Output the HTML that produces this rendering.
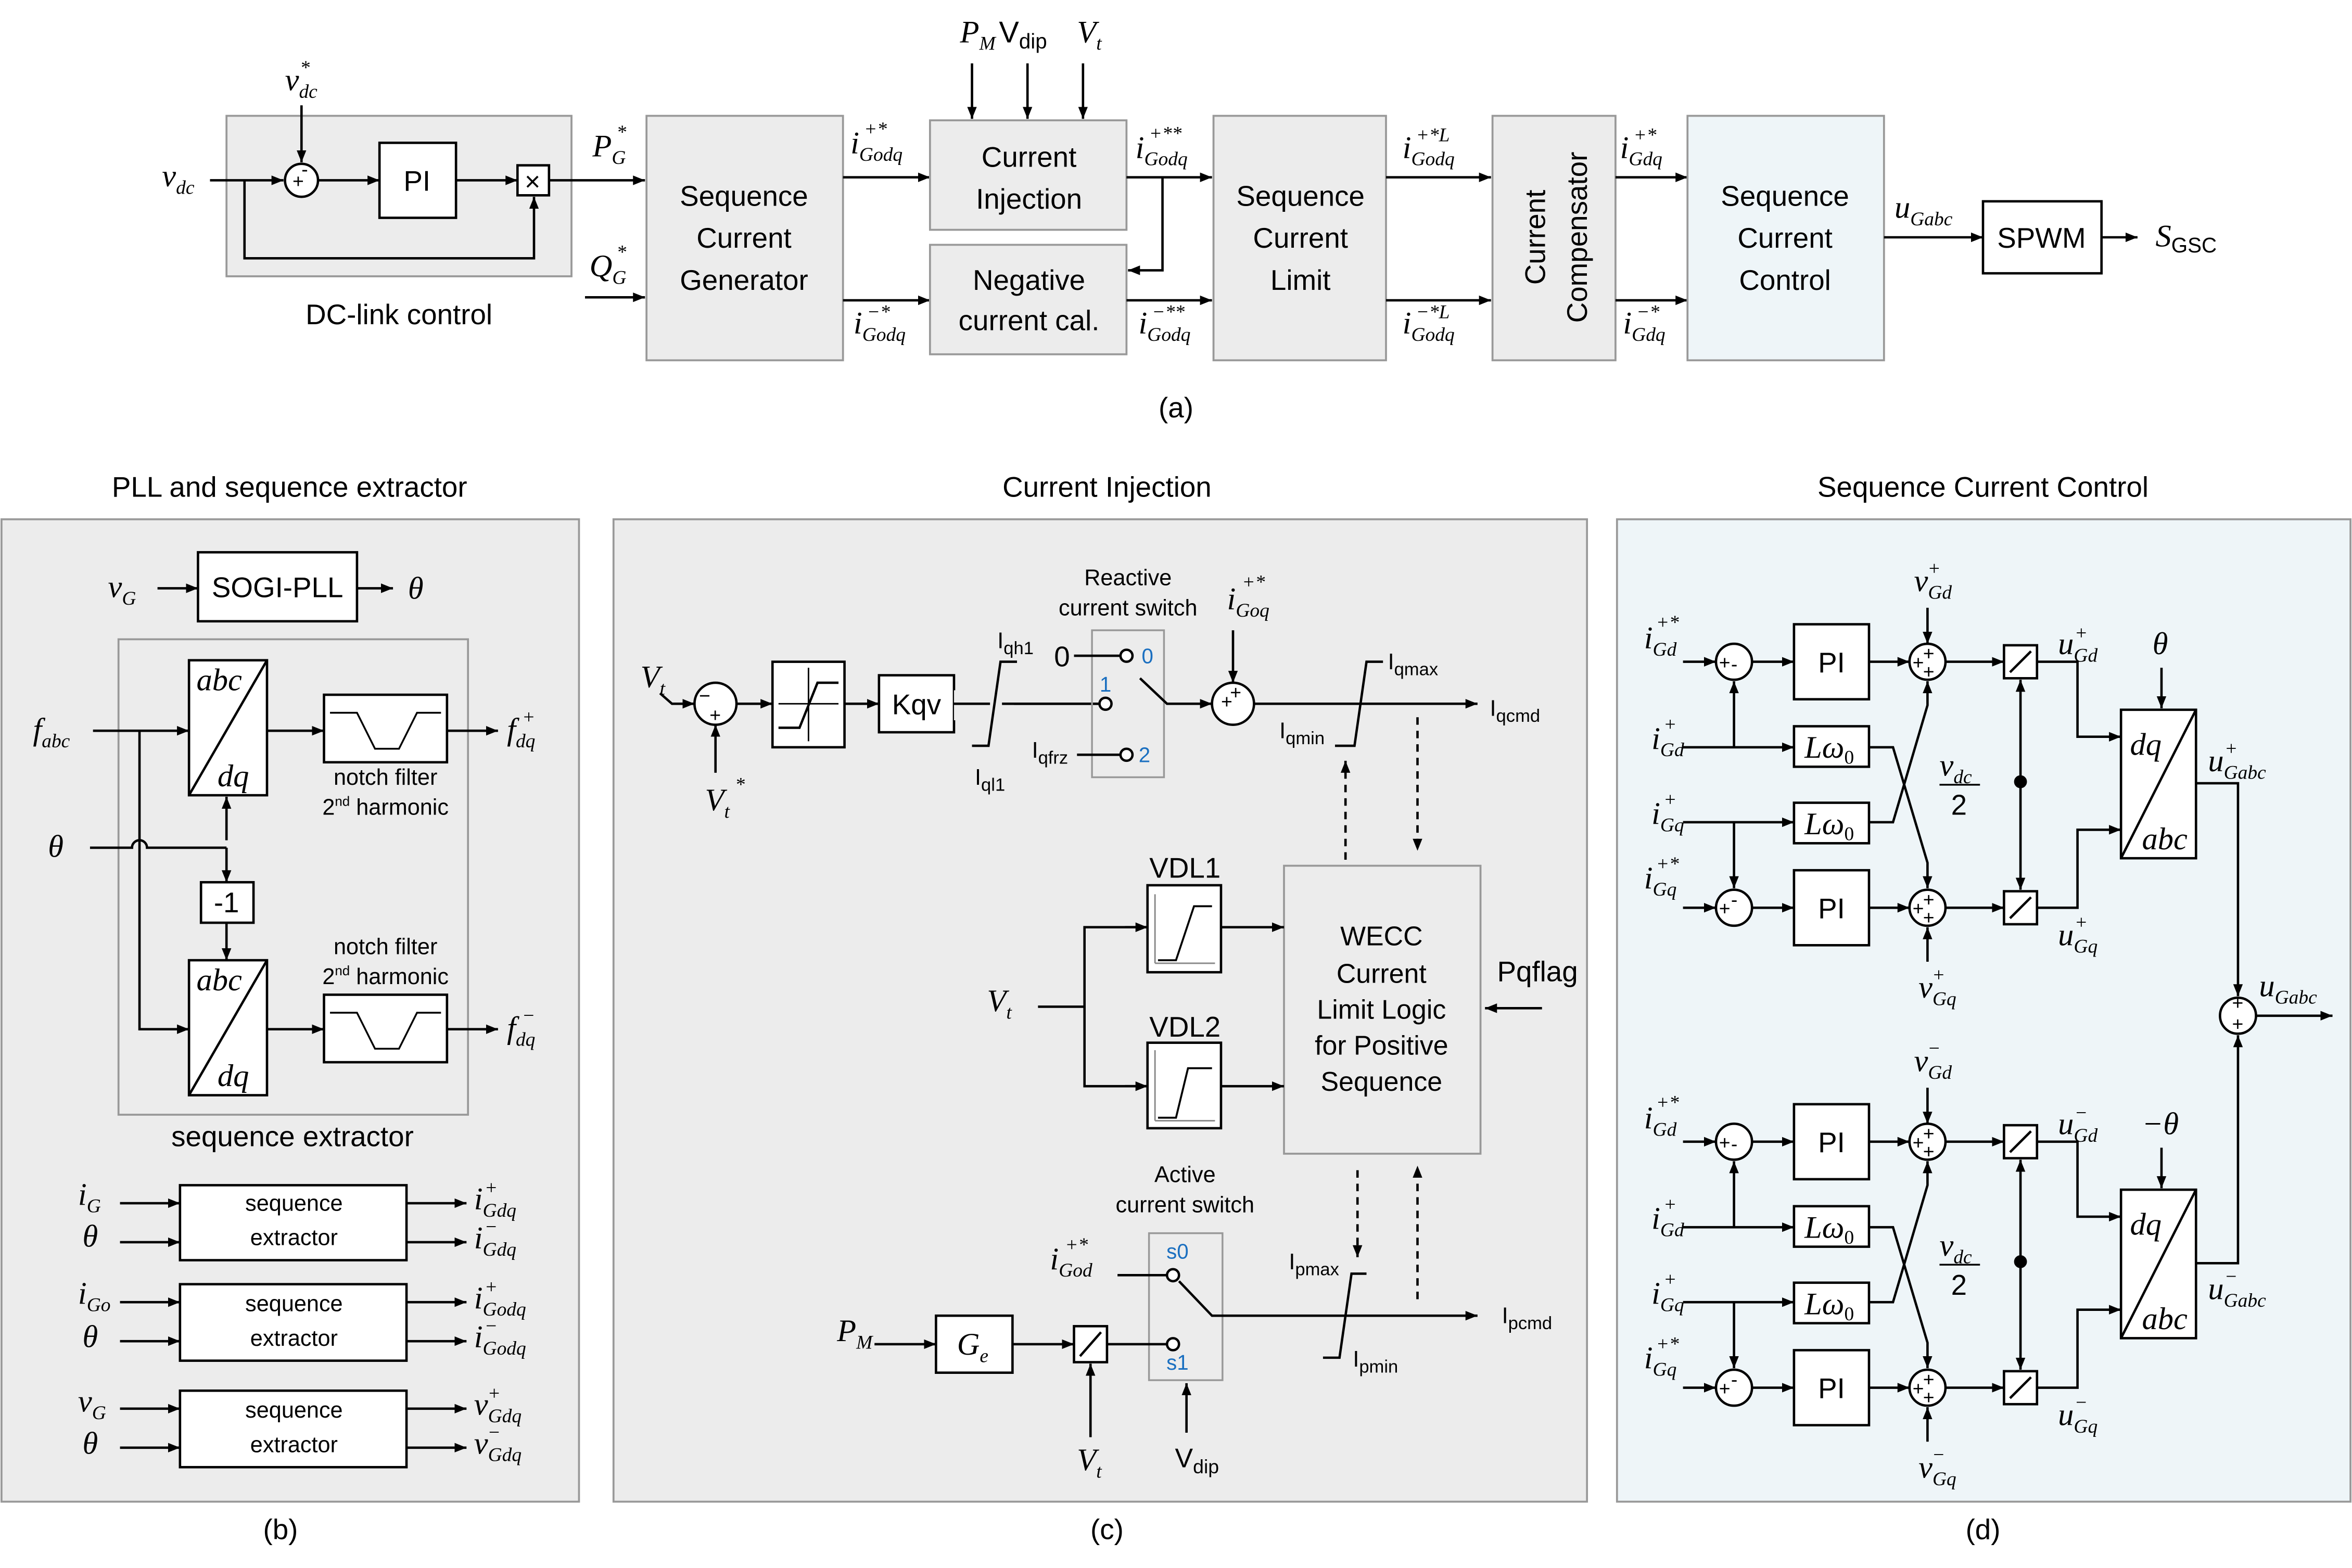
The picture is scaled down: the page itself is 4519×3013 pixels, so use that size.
<!DOCTYPE html>
<html><head><meta charset="utf-8"><style>
html,body{margin:0;padding:0;background:#fff}
svg{display:block}
.t{font-family:"Liberation Sans",sans-serif;font-size:19px;fill:#000;text-anchor:middle}
.s{font-family:"Liberation Sans",sans-serif;font-size:15px;fill:#000;text-anchor:middle}
.b{font-family:"Liberation Sans",sans-serif;font-size:14px;fill:#1a6fc0;text-anchor:middle}
.m{font-family:"Liberation Serif",serif;font-style:italic;font-size:21px;fill:#000}
.ms{font-family:"Liberation Serif",serif;font-style:italic;font-size:13px;fill:#000}
.n{font-family:"Liberation Sans",sans-serif;font-size:13px;fill:#000}
line,path,polyline{stroke:#000;stroke-width:1.6;fill:none}
.bx{fill:#fff;stroke:#000;stroke-width:1.6}
.gb{fill:#ececec;stroke:#999;stroke-width:1.3}
.lb{fill:#eef5f8;stroke:#999;stroke-width:1.3}
.d{stroke-dasharray:5,4}
circle{fill:#fff;stroke:#000;stroke-width:1.6}
</style></head><body>
<svg width="4519" height="3013" viewBox="0 0 1568 1045" xmlns="http://www.w3.org/2000/svg">
<defs><marker id="a" viewBox="0 0 10 10" refX="10" refY="5" markerWidth="8" markerHeight="8" markerUnits="userSpaceOnUse" orient="auto"><path d="M0,1 L10,5 L0,9 z" style="fill:#000;stroke:none"/></marker></defs>

<!-- (a) -->
<rect class="gb" x="151" y="77" width="230" height="107"/>
<text class="m" x="108" y="124">v<tspan class="ms" dy="5">dc</tspan></text>
<line x1="140" y1="120" x2="189" y2="120" marker-end="url(#a)"/>
<circle cx="201" cy="120" r="11"/><text class="n" x="195" y="125">+</text><text class="n" x="201" y="117">-</text>
<text class="m" x="190" y="60">v<tspan class="ms" dy="5">dc</tspan></text><text class="ms" x="200" y="49">*</text>
<line x1="201" y1="70" x2="201" y2="108" marker-end="url(#a)"/>
<line x1="212" y1="120" x2="253" y2="120" marker-end="url(#a)"/>
<rect class="bx" x="253" y="95" width="51" height="50"/><text class="t" x="278" y="127">PI</text>
<line x1="304" y1="120" x2="345" y2="120" marker-end="url(#a)"/>
<rect class="bx" x="345" y="110" width="21" height="20"/><text class="t" x="355" y="127" style="font-size:18px">×</text>
<polyline points="163,120 163,172 356,172 356,131" marker-end="url(#a)"/>
<line x1="366" y1="120" x2="430" y2="120" marker-end="url(#a)"/>
<text class="m" x="395" y="104">P<tspan class="ms" dy="5">G</tspan></text><text class="ms" x="411" y="92">*</text>
<text class="m" x="393" y="184">Q<tspan class="ms" dy="5">G</tspan></text><text class="ms" x="411" y="172">*</text>
<line x1="390" y1="198" x2="430" y2="198" marker-end="url(#a)"/>
<text class="t" x="266" y="216">DC-link control</text>

<rect class="gb" x="431" y="77" width="131" height="163"/>
<text class="t" x="496" y="137">Sequence</text><text class="t" x="496" y="165">Current</text><text class="t" x="496" y="193">Generator</text>
<line x1="562" y1="118" x2="620" y2="118" marker-end="url(#a)"/>
<text class="m" x="567" y="102">i<tspan class="ms" dy="5">Godq</tspan></text><text class="ms" x="576" y="90">+*</text>
<line x1="562" y1="200" x2="620" y2="200" marker-end="url(#a)"/>
<text class="m" x="569" y="222">i<tspan class="ms" dy="5">Godq</tspan></text><text class="ms" x="578" y="212">−*</text>

<rect class="gb" x="620" y="80" width="131" height="73"/>
<text class="t" x="686" y="111">Current</text><text class="t" x="686" y="139">Injection</text>
<rect class="gb" x="620" y="163" width="131" height="73"/>
<text class="t" x="686" y="193">Negative</text><text class="t" x="686" y="220">current cal.</text>
<text class="m" x="640" y="28">P<tspan class="ms" dy="5">M</tspan></text>
<text class="t" x="682" y="28" style="font-size:20px">V<tspan style="font-size:14px" dy="4">dip</tspan></text>
<text class="m" x="718" y="28">V<tspan class="ms" dy="5">t</tspan></text>
<line x1="648" y1="42" x2="648" y2="79" marker-end="url(#a)"/>
<line x1="685" y1="42" x2="685" y2="79" marker-end="url(#a)"/>
<line x1="722" y1="42" x2="722" y2="79" marker-end="url(#a)"/>
<line x1="751" y1="118" x2="808" y2="118" marker-end="url(#a)"/>
<polyline points="775,118 775,180 752,180" marker-end="url(#a)"/>
<text class="m" x="757" y="105">i<tspan class="ms" dy="5">Godq</tspan></text><text class="ms" x="766" y="93">+**</text>
<line x1="751" y1="200" x2="808" y2="200" marker-end="url(#a)"/>
<text class="m" x="759" y="222">i<tspan class="ms" dy="5">Godq</tspan></text><text class="ms" x="768" y="212">−**</text>

<rect class="gb" x="809" y="77" width="115" height="163"/>
<text class="t" x="867" y="137">Sequence</text><text class="t" x="867" y="165">Current</text><text class="t" x="867" y="193">Limit</text>
<line x1="924" y1="118" x2="994" y2="118" marker-end="url(#a)"/>
<text class="m" x="935" y="105">i<tspan class="ms" dy="5">Godq</tspan></text><text class="ms" x="944" y="94">+*L</text>
<line x1="924" y1="200" x2="994" y2="200" marker-end="url(#a)"/>
<text class="m" x="935" y="222">i<tspan class="ms" dy="5">Godq</tspan></text><text class="ms" x="944" y="212">−*L</text>

<rect class="gb" x="995" y="77" width="82" height="163"/>
<text class="t" transform="translate(1030,158) rotate(-90)">Current</text>
<text class="t" transform="translate(1058,158) rotate(-90)">Compensator</text>
<line x1="1077" y1="118" x2="1125" y2="118" marker-end="url(#a)"/>
<text class="m" x="1080" y="105">i<tspan class="ms" dy="5">Gdq</tspan></text><text class="ms" x="1089" y="94">+*</text>
<line x1="1077" y1="200" x2="1125" y2="200" marker-end="url(#a)"/>
<text class="m" x="1082" y="222">i<tspan class="ms" dy="5">Gdq</tspan></text><text class="ms" x="1091" y="212">−*</text>

<rect class="lb" x="1125" y="77" width="131" height="163"/>
<text class="t" x="1190" y="137">Sequence</text><text class="t" x="1190" y="165">Current</text><text class="t" x="1190" y="193">Control</text>
<line x1="1256" y1="158" x2="1322" y2="158" marker-end="url(#a)"/>
<text class="m" x="1263" y="145">u<tspan class="ms" dy="5">Gabc</tspan></text>
<rect class="bx" x="1322" y="134" width="79" height="48"/><text class="t" x="1361" y="165">SPWM</text>
<line x1="1401" y1="158" x2="1425" y2="158" marker-end="url(#a)"/>
<text class="m" x="1437" y="164">S<tspan style="font-family:'Liberation Sans',sans-serif;font-style:normal;font-size:14px" dy="4">GSC</tspan></text>
<text class="t" x="784" y="278">(a)</text>

<!-- (b) -->
<text class="t" x="193" y="331">PLL and sequence extractor</text>
<rect class="gb" x="1" y="346" width="385" height="655"/>
<text class="m" x="72" y="398">v<tspan class="ms" dy="5">G</tspan></text>
<line x1="105" y1="392" x2="132" y2="392" marker-end="url(#a)"/>
<rect class="bx" x="132" y="368" width="106" height="46"/><text class="t" x="185" y="398">SOGI-PLL</text>
<line x1="238" y1="392" x2="262" y2="392" marker-end="url(#a)"/>
<text class="m" x="272" y="399">θ</text>
<rect x="79" y="426" width="233" height="317" style="fill:none;stroke:#999;stroke-width:1.3"/>
<rect class="bx" x="126" y="440" width="52" height="90"/><line x1="178" y1="440" x2="126" y2="530"/>
<text class="m" x="131" y="460">abc</text><text class="m" x="145" y="524">dq</text>
<rect class="bx" x="126" y="640" width="52" height="90"/><line x1="178" y1="640" x2="126" y2="730"/>
<text class="m" x="131" y="660">abc</text><text class="m" x="145" y="724">dq</text>
<text class="m" x="22" y="493">f<tspan class="ms" dy="5">abc</tspan></text>
<line x1="62" y1="487" x2="126" y2="487" marker-end="url(#a)"/>
<polyline points="93,487 93,686 126,686" marker-end="url(#a)"/>
<line x1="178" y1="487" x2="216" y2="487" marker-end="url(#a)"/>
<rect class="bx" x="216" y="463" width="82" height="45"/><polyline points="220,475 238,475 250,499 266,499 278,475 294,475" style="stroke-width:1.2"/>
<line x1="298" y1="487" x2="332" y2="487" marker-end="url(#a)"/>
<text class="m" x="338" y="493">f<tspan class="ms" dy="5">dq</tspan></text><text class="ms" x="348" y="482">+</text>
<text class="s" x="257" y="523">notch filter</text><text class="s" x="257" y="543">2<tspan style="font-size:9px" dy="-6">nd</tspan><tspan dy="6"> harmonic</tspan></text>
<text class="m" x="32" y="571">θ</text>
<path d="M60,565 L88,565 A5,5 0 0 1 98,565 L151,565"/>
<line x1="151" y1="560" x2="151" y2="531" marker-end="url(#a)"/>
<line x1="151" y1="565" x2="151" y2="588" marker-end="url(#a)"/>
<rect class="bx" x="134" y="588" width="35" height="27"/><text class="t" x="151" y="608">-1</text>
<line x1="151" y1="615" x2="151" y2="640" marker-end="url(#a)"/>
<line x1="178" y1="686" x2="216" y2="686" marker-end="url(#a)"/>
<rect class="bx" x="216" y="663" width="82" height="45"/><polyline points="220,675 238,675 250,699 266,699 278,675 294,675" style="stroke-width:1.2"/>
<line x1="298" y1="686" x2="332" y2="686" marker-end="url(#a)"/>
<text class="m" x="338" y="692">f<tspan class="ms" dy="5">dq</tspan></text><text class="ms" x="348" y="681">−</text>
<text class="s" x="257" y="636">notch filter</text><text class="s" x="257" y="656">2<tspan style="font-size:9px" dy="-6">nd</tspan><tspan dy="6"> harmonic</tspan></text>
<text class="t" x="195" y="764">sequence extractor</text>
<!-- extractors -->
<rect class="bx" x="120" y="790" width="151" height="50"/><text class="s" x="196" y="807">sequence</text><text class="s" x="196" y="830">extractor</text>
<text class="m" x="52" y="803">i<tspan class="ms" dy="5">G</tspan></text><text class="m" x="55" y="831">θ</text>
<line x1="80" y1="802" x2="120" y2="802" marker-end="url(#a)"/><line x1="80" y1="828" x2="120" y2="828" marker-end="url(#a)"/>
<line x1="271" y1="802" x2="311" y2="802" marker-end="url(#a)"/><line x1="271" y1="828" x2="311" y2="828" marker-end="url(#a)"/>
<text class="m" x="316" y="806">i<tspan class="ms" dy="5">Gdq</tspan></text><text class="ms" x="323" y="796">+</text>
<text class="m" x="316" y="832">i<tspan class="ms" dy="5">Gdq</tspan></text><text class="ms" x="323" y="822">−</text>
<rect class="bx" x="120" y="856" width="151" height="51"/><text class="s" x="196" y="874">sequence</text><text class="s" x="196" y="897">extractor</text>
<text class="m" x="52" y="869">i<tspan class="ms" dy="5">Go</tspan></text><text class="m" x="55" y="898">θ</text>
<line x1="80" y1="868" x2="120" y2="868" marker-end="url(#a)"/><line x1="80" y1="894" x2="120" y2="894" marker-end="url(#a)"/>
<line x1="271" y1="868" x2="311" y2="868" marker-end="url(#a)"/><line x1="271" y1="894" x2="311" y2="894" marker-end="url(#a)"/>
<text class="m" x="316" y="872">i<tspan class="ms" dy="5">Godq</tspan></text><text class="ms" x="323" y="862">+</text>
<text class="m" x="316" y="898">i<tspan class="ms" dy="5">Godq</tspan></text><text class="ms" x="323" y="888">−</text>
<rect class="bx" x="120" y="927" width="151" height="51"/><text class="s" x="196" y="945">sequence</text><text class="s" x="196" y="968">extractor</text>
<text class="m" x="52" y="941">v<tspan class="ms" dy="5">G</tspan></text><text class="m" x="55" y="969">θ</text>
<line x1="80" y1="939" x2="120" y2="939" marker-end="url(#a)"/><line x1="80" y1="965" x2="120" y2="965" marker-end="url(#a)"/>
<line x1="271" y1="939" x2="311" y2="939" marker-end="url(#a)"/><line x1="271" y1="965" x2="311" y2="965" marker-end="url(#a)"/>
<text class="m" x="316" y="943">v<tspan class="ms" dy="5">Gdq</tspan></text><text class="ms" x="325" y="933">+</text>
<text class="m" x="316" y="969">v<tspan class="ms" dy="5">Gdq</tspan></text><text class="ms" x="325" y="959">−</text>
<text class="t" x="187" y="1026">(b)</text>

<!-- (c) -->
<text class="t" x="738" y="331">Current Injection</text>
<rect class="gb" x="409" y="346" width="649" height="655"/>
<text class="m" x="427" y="458">V<tspan class="ms" dy="5">t</tspan></text>
<polyline points="440,462 448,469 463,469" marker-end="url(#a)"/>
<circle cx="477" cy="469" r="14"/><text class="n" x="466" y="468">−</text><text class="n" x="473" y="481">+</text>
<text class="m" x="470" y="540">V<tspan class="ms" dy="5">t</tspan></text><text class="ms" x="490" y="527">*</text>
<line x1="477" y1="515" x2="477" y2="483" marker-end="url(#a)"/>
<line x1="491" y1="469" x2="515" y2="469" marker-end="url(#a)"/>
<rect class="bx" x="515" y="441" width="48" height="57"/>
<line x1="519" y1="469" x2="559" y2="469" style="stroke-width:1"/><line x1="539" y1="445" x2="539" y2="494" style="stroke-width:1"/>
<polyline points="519,485 533,485 545,455 559,455"/>
<line x1="563" y1="469" x2="586" y2="469" marker-end="url(#a)"/>
<rect class="bx" x="586" y="450" width="50" height="38"/><text class="t" x="611" y="476">Kqv</text>
<line x1="636" y1="469" x2="733" y2="469"/>
<rect x="636" y="460" width="40" height="20" style="fill:#ececec;stroke:none"/>
<line x1="636" y1="469" x2="660" y2="469"/>
<polyline points="648,497 659,497 667,441 678,441"/>
<line x1="668" y1="469" x2="733" y2="469"/>
<text class="s" x="677" y="432" style="text-anchor:middle">I<tspan style="font-size:12px" dy="4">qh1</tspan></text>
<text class="s" x="660" y="523">I<tspan style="font-size:12px" dy="4">ql1</tspan></text>
<text class="t" x="752" y="390" style="font-size:15px">Reactive</text><text class="t" x="752" y="410" style="font-size:15px">current switch</text>
<rect x="728" y="420" width="48" height="98" style="fill:none;stroke:#999;stroke-width:1.2"/>
<text class="t" x="708" y="444">0</text><line x1="716" y1="437" x2="747" y2="437"/><circle cx="751" cy="437" r="4"/><text class="b" x="765" y="442">0</text>
<text class="b" x="737" y="461">1</text><circle cx="737" cy="469" r="4"/>
<text class="s" x="700" y="505">I<tspan style="font-size:12px" dy="4">qfrz</tspan></text><line x1="718" y1="503" x2="747" y2="503"/><circle cx="751" cy="503" r="4"/><text class="b" x="763" y="508">2</text>
<polyline points="760,452 778,469 808,469" marker-end="url(#a)"/>
<circle cx="822" cy="469" r="14"/><text class="n" x="814" y="472">+</text><text class="n" x="820" y="466">+</text>
<text class="m" x="818" y="406">i<tspan class="ms" dy="5">Goq</tspan></text><text class="ms" x="828" y="392">+*</text>
<line x1="822" y1="420" x2="822" y2="455" marker-end="url(#a)"/>
<line x1="836" y1="469" x2="985" y2="469" marker-end="url(#a)"/>
<polyline points="890,497 903,497 911,441 922,441"/>
<text class="s" x="942" y="446">I<tspan style="font-size:12px" dy="4">qmax</tspan></text>
<text class="s" x="868" y="492">I<tspan style="font-size:12px" dy="4">qmin</tspan></text>
<text class="s" x="1010" y="477">I<tspan style="font-size:12px" dy="4">qcmd</tspan></text>
<line class="d" x1="897" y1="573" x2="897" y2="507" marker-end="url(#a)"/>
<line class="d" x1="945" y1="478" x2="945" y2="567" marker-end="url(#a)"/>
<rect x="856" y="577" width="131" height="192" style="fill:#ececec;stroke:#999;stroke-width:1.3"/>
<text class="t" x="921" y="630" style="font-size:18px">WECC</text><text class="t" x="921" y="655" style="font-size:18px">Current</text><text class="t" x="921" y="679" style="font-size:18px">Limit Logic</text><text class="t" x="921" y="703" style="font-size:18px">for Positive</text><text class="t" x="921" y="727" style="font-size:18px">Sequence</text>
<text class="t" x="1025" y="654">Pqflag</text>
<line x1="1028" y1="672" x2="990" y2="672" marker-end="url(#a)"/>
<text class="m" x="658" y="674">V<tspan class="ms" dy="5">t</tspan></text>
<line x1="692" y1="671" x2="723" y2="671"/>
<polyline points="765,618 723,618 723,724 765,724"/>
<line x1="750" y1="618" x2="765" y2="618" marker-end="url(#a)"/><line x1="750" y1="724" x2="765" y2="724" marker-end="url(#a)"/>
<text class="t" x="790" y="585">VDL1</text><text class="t" x="790" y="691">VDL2</text>
<rect class="bx" x="765" y="590" width="49" height="58"/><polyline points="772,640 784,640 796,604 808,604" style="stroke-width:1.3"/><line x1="770" y1="596" x2="770" y2="642" style="stroke:#888;stroke-width:1"/><line x1="770" y1="642" x2="810" y2="642" style="stroke:#888;stroke-width:1"/>
<rect class="bx" x="765" y="695" width="49" height="57"/><polyline points="772,745 784,745 792,712 808,712" style="stroke-width:1.3"/><line x1="770" y1="700" x2="770" y2="747" style="stroke:#888;stroke-width:1"/><line x1="770" y1="747" x2="810" y2="747" style="stroke:#888;stroke-width:1"/>
<line x1="814" y1="618" x2="856" y2="618" marker-end="url(#a)"/><line x1="814" y1="724" x2="856" y2="724" marker-end="url(#a)"/>
<text class="t" x="790" y="788" style="font-size:15px">Active</text><text class="t" x="790" y="808" style="font-size:15px">current switch</text>
<rect x="766" y="822" width="49" height="98" style="fill:none;stroke:#999;stroke-width:1.2"/>
<line class="d" x1="905" y1="780" x2="905" y2="838" marker-end="url(#a)"/>
<line class="d" x1="945" y1="866" x2="945" y2="777" marker-end="url(#a)"/>
<text class="m" x="558" y="894">P<tspan class="ms" dy="5">M</tspan></text>
<line x1="583" y1="896" x2="624" y2="896" marker-end="url(#a)"/>
<rect class="bx" x="624" y="877" width="51" height="38"/><text class="m" x="638" y="903">G<tspan class="ms" dy="5">e</tspan></text>
<line x1="675" y1="896" x2="716" y2="896" marker-end="url(#a)"/>
<rect class="bx" x="716" y="884" width="22" height="24"/><line x1="720" y1="904" x2="734" y2="888"/>
<line x1="727" y1="958" x2="727" y2="909" marker-end="url(#a)"/>
<text class="m" x="718" y="980">V<tspan class="ms" dy="5">t</tspan></text>
<line x1="738" y1="896" x2="778" y2="896"/><circle cx="782" cy="896" r="4"/><text class="b" x="785" y="913">s1</text>
<text class="m" x="700" y="846">i<tspan class="ms" dy="5">God</tspan></text><text class="ms" x="710" y="834">+*</text>
<line x1="745" y1="850" x2="778" y2="850"/><circle cx="782" cy="850" r="4"/><text class="b" x="785" y="839">s0</text>
<polyline points="786,854 808,877 985,877" marker-end="url(#a)"/>
<polyline points="882,905 893,905 901,849 911,849"/>
<text class="s" x="876" y="846">I<tspan style="font-size:12px" dy="4">pmax</tspan></text>
<text class="s" x="917" y="911">I<tspan style="font-size:12px" dy="4">pmin</tspan></text>
<text class="s" x="1018" y="882">I<tspan style="font-size:12px" dy="4">pcmd</tspan></text>
<line x1="791" y1="955" x2="791" y2="922" marker-end="url(#a)"/>
<text class="t" x="798" y="978" style="font-size:18px">V<tspan style="font-size:13px" dy="4">dip</tspan></text>
<text class="t" x="738" y="1026">(c)</text>

<!-- (d) -->
<text class="t" x="1322" y="331">Sequence Current Control</text>
<rect class="lb" x="1078" y="346" width="489" height="655"/>
<g id="h1">
<text class="m" x="1096" y="432">i<tspan class="ms" dy="5">Gd</tspan></text><text class="ms" x="1104" y="419">+*</text>
<line x1="1122" y1="441" x2="1144" y2="441" marker-end="url(#a)"/>
<circle cx="1156" cy="441" r="12"/><text class="n" x="1146" y="446">+</text><text class="n" x="1154" y="447">-</text>
<line x1="1168" y1="441" x2="1196" y2="441" marker-end="url(#a)"/>
<rect class="bx" x="1196" y="416" width="50" height="50"/><text class="t" x="1221" y="448">PI</text>
<line x1="1246" y1="441" x2="1273" y2="441" marker-end="url(#a)"/>
<circle cx="1285" cy="441" r="12"/><text class="n" x="1275" y="446">+</text><text class="n" x="1282" y="440">+</text><text class="n" x="1282" y="452">+</text>
<line x1="1285" y1="405" x2="1285" y2="429" marker-end="url(#a)"/>
<line x1="1297" y1="441" x2="1336" y2="441" marker-end="url(#a)"/>
<rect class="bx" x="1336" y="430" width="22" height="22"/><line x1="1340" y1="448" x2="1354" y2="434"/>
<polyline points="1358,441 1385,441 1385,491 1414,491" marker-end="url(#a)"/>
<text class="m" x="1101" y="499">i<tspan class="ms" dy="5">Gd</tspan></text><text class="ms" x="1109" y="487">+</text>
<line x1="1122" y1="498" x2="1196" y2="498" marker-end="url(#a)"/>
<line x1="1156" y1="498" x2="1156" y2="454" marker-end="url(#a)"/>
<rect class="bx" x="1196" y="484" width="50" height="27"/><text class="m" x="1203" y="505">Lω<tspan class="ms" dy="4" style="font-style:normal">0</tspan></text>
<text class="m" x="1101" y="549">i<tspan class="ms" dy="5">Gq</tspan></text><text class="ms" x="1109" y="537">+</text>
<line x1="1122" y1="548" x2="1196" y2="548" marker-end="url(#a)"/>
<line x1="1156" y1="548" x2="1156" y2="592" marker-end="url(#a)"/>
<rect class="bx" x="1196" y="535" width="50" height="27"/><text class="m" x="1203" y="556">Lω<tspan class="ms" dy="4" style="font-style:normal">0</tspan></text>
<polyline points="1246,498 1262,498 1285,575 1285,592" marker-end="url(#a)"/>
<polyline points="1246,548 1262,548 1285,470 1285,454" marker-end="url(#a)"/>
<text class="m" x="1096" y="592">i<tspan class="ms" dy="5">Gq</tspan></text><text class="ms" x="1104" y="580">+*</text>
<line x1="1122" y1="605" x2="1144" y2="605" marker-end="url(#a)"/>
<circle cx="1156" cy="605" r="12"/><text class="n" x="1146" y="610">+</text><text class="n" x="1154" y="604">-</text>
<line x1="1168" y1="605" x2="1196" y2="605" marker-end="url(#a)"/>
<rect class="bx" x="1196" y="580" width="50" height="50"/><text class="t" x="1221" y="612">PI</text>
<line x1="1246" y1="605" x2="1273" y2="605" marker-end="url(#a)"/>
<circle cx="1285" cy="605" r="12"/><text class="n" x="1275" y="610">+</text><text class="n" x="1282" y="604">+</text><text class="n" x="1282" y="616">+</text>
<line x1="1285" y1="641" x2="1285" y2="618" marker-end="url(#a)"/>
<line x1="1297" y1="605" x2="1336" y2="605" marker-end="url(#a)"/>
<rect class="bx" x="1336" y="594" width="22" height="22"/><line x1="1340" y1="612" x2="1354" y2="598"/>
<polyline points="1358,605 1385,605 1385,553 1414,553" marker-end="url(#a)"/>
<text class="m" x="1293" y="517">v<tspan class="ms" dy="5">dc</tspan></text><line x1="1293" y1="523" x2="1320" y2="523" style="stroke-width:1.2"/><text class="t" x="1306" y="543">2</text>
<line x1="1347" y1="521" x2="1347" y2="453" marker-end="url(#a)"/>
<line x1="1347" y1="521" x2="1347" y2="593" marker-end="url(#a)"/>
<circle cx="1347" cy="521" r="3.5" style="fill:#000"/>
<rect class="bx" x="1414" y="473" width="50" height="99"/><line x1="1464" y1="473" x2="1414" y2="572"/>
<text class="m" x="1420" y="503">dq</text><text class="m" x="1428" y="566">abc</text>
</g>
<text class="m" x="1276" y="394">v<tspan class="ms" dy="5">Gd</tspan></text><text class="ms" x="1285" y="383">+</text>
<text class="m" x="1279" y="665">v<tspan class="ms" dy="5">Gq</tspan></text><text class="ms" x="1288" y="654">+</text>
<text class="m" x="1372" y="436">u<tspan class="ms" dy="5">Gd</tspan></text><text class="ms" x="1383" y="426">+</text>
<text class="m" x="1372" y="630">u<tspan class="ms" dy="5">Gq</tspan></text><text class="ms" x="1383" y="619">+</text>
<text class="m" x="1435" y="436">θ</text><line x1="1441" y1="445" x2="1441" y2="472" marker-end="url(#a)"/>
<text class="m" x="1472" y="514">u<tspan class="ms" dy="5">Gabc</tspan></text><text class="ms" x="1483" y="503">+</text>
<polyline points="1464,522 1492,522 1492,664" marker-end="url(#a)"/>

<use href="#h1" transform="translate(0,320)"/>
<text class="m" x="1276" y="714">v<tspan class="ms" dy="5">Gd</tspan></text><text class="ms" x="1285" y="703">−</text>
<text class="m" x="1279" y="985">v<tspan class="ms" dy="5">Gq</tspan></text><text class="ms" x="1288" y="974">−</text>
<text class="m" x="1372" y="756">u<tspan class="ms" dy="5">Gd</tspan></text><text class="ms" x="1383" y="746">−</text>
<text class="m" x="1372" y="950">u<tspan class="ms" dy="5">Gq</tspan></text><text class="ms" x="1383" y="939">−</text>
<text class="m" x="1428" y="756">−θ</text><line x1="1441" y1="765" x2="1441" y2="792" marker-end="url(#a)"/>
<text class="m" x="1472" y="866">u<tspan class="ms" dy="5">Gabc</tspan></text><text class="ms" x="1483" y="855">−</text>
<polyline points="1464,842 1492,842 1492,690" marker-end="url(#a)"/>
<circle cx="1492" cy="677" r="12"/><text class="n" x="1488" y="673">+</text><text class="n" x="1488" y="687">+</text>
<line x1="1504" y1="677" x2="1555" y2="677" marker-end="url(#a)"/>
<text class="m" x="1506" y="664">u<tspan class="ms" dy="5">Gabc</tspan></text>
<text class="t" x="1322" y="1026">(d)</text>
</svg>
</body></html>
